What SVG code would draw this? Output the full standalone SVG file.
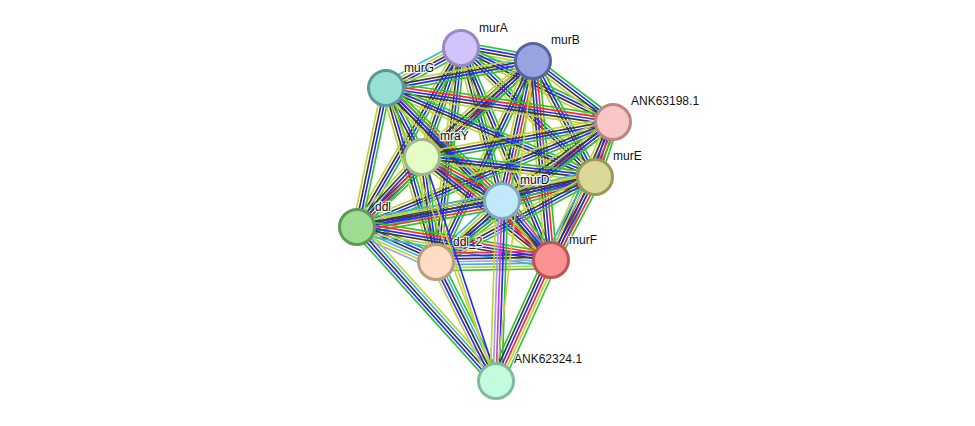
<svg xmlns="http://www.w3.org/2000/svg" xmlns:xlink="http://www.w3.org/1999/xlink" width="975" height="426" viewBox="0 0 975 426">
<style>
line{stroke-width:1.5;fill:none}
.g{stroke:#2fc42f}.r{stroke:#ff2a2a}.b{stroke:#2a2aff}.k{stroke:#3a3a3a}
.m{stroke:#d23cd2}.c{stroke:#3cb4d8}.y{stroke:#c2d23c}.h{stroke:#a0a0f0}
circle{stroke-width:3}
text{font-family:"Liberation Sans",Arial,sans-serif;font-size:12px;fill:#111;stroke:#fff;stroke-width:2.5;stroke-opacity:0.85;paint-order:stroke;stroke-linejoin:round}
</style>
<defs>
<g id="b4" transform="scale(1,1.12)"><line x1="0" x2="1" y1="-3.9" y2="-3.9" class="g"/><line x1="0" x2="1" y1="-1.3" y2="-1.3" class="b"/><line x1="0" x2="1" y1="1.3" y2="1.3" class="k"/><line x1="0" x2="1" y1="3.9" y2="3.9" class="y"/></g>
<g id="b5r" transform="scale(1,1.12)"><line x1="0" x2="1" y1="-5.2" y2="-5.2" class="g"/><line x1="0" x2="1" y1="-2.6" y2="-2.6" class="r"/><line x1="0" x2="1" y1="0" y2="0" class="b"/><line x1="0" x2="1" y1="2.6" y2="2.6" class="k"/><line x1="0" x2="1" y1="5.2" y2="5.2" class="y"/></g>
<g id="b5c" transform="scale(1,1.12)"><line x1="0" x2="1" y1="-5.2" y2="-5.2" class="g"/><line x1="0" x2="1" y1="-2.6" y2="-2.6" class="b"/><line x1="0" x2="1" y1="0" y2="0" class="k"/><line x1="0" x2="1" y1="2.6" y2="2.6" class="y"/><line x1="0" x2="1" y1="5.2" y2="5.2" class="c"/></g>
<g id="bEF" transform="scale(1,1.12)"><line x1="0" x2="1" y1="-6.5" y2="-6.5" class="g"/><line x1="0" x2="1" y1="-3.9" y2="-3.9" class="r"/><line x1="0" x2="1" y1="-1.3" y2="-1.3" class="b"/><line x1="0" x2="1" y1="1.3" y2="1.3" class="k"/><line x1="0" x2="1" y1="3.9" y2="3.9" class="y"/><line x1="0" x2="1" y1="6.5" y2="6.5" class="c"/></g>
<g id="bKF" transform="scale(1,1.12)"><line x1="0" x2="1" y1="-6.5" y2="-6.5" class="g"/><line x1="0" x2="1" y1="-3.9" y2="-3.9" class="y"/><line x1="0" x2="1" y1="-1.3" y2="-1.3" class="r"/><line x1="0" x2="1" y1="1.3" y2="1.3" class="b"/><line x1="0" x2="1" y1="3.9" y2="3.9" class="k"/><line x1="0" x2="1" y1="6.5" y2="6.5" class="g"/></g>
<g id="bDF" transform="scale(1,1.12)"><line x1="0" x2="1" y1="-6.5" y2="-6.5" class="g"/><line x1="0" x2="1" y1="-3.9" y2="-3.9" class="m"/><line x1="0" x2="1" y1="-1.3" y2="-1.3" class="b"/><line x1="0" x2="1" y1="1.3" y2="1.3" class="k"/><line x1="0" x2="1" y1="3.9" y2="3.9" class="y"/><line x1="0" x2="1" y1="6.5" y2="6.5" class="r"/></g>
<g id="bLT" transform="scale(1,1.12)"><line x1="0" x2="1" y1="-6.5" y2="-6.5" class="g"/><line x1="0" x2="1" y1="-3.9" y2="-3.9" class="b"/><line x1="0" x2="1" y1="-1.3" y2="-1.3" class="k"/><line x1="0" x2="1" y1="1.3" y2="1.3" class="c"/><line x1="0" x2="1" y1="3.9" y2="3.9" class="y"/><line x1="0" x2="1" y1="6.5" y2="6.5" class="h"/></g>
<g id="bTF" transform="scale(1,1.12)"><line x1="0" x2="1" y1="-7.8" y2="-7.8" class="r"/><line x1="0" x2="1" y1="-5.2" y2="-5.2" class="b"/><line x1="0" x2="1" y1="-2.6" y2="-2.6" class="k"/><line x1="0" x2="1" y1="0" y2="0" class="h"/><line x1="0" x2="1" y1="2.6" y2="2.6" class="c"/><line x1="0" x2="1" y1="5.2" y2="5.2" class="y"/><line x1="0" x2="1" y1="7.8" y2="7.8" class="g"/></g>
<g id="bDK" transform="scale(1,1.12)"><line x1="0" x2="1" y1="-5.2" y2="-5.2" class="g"/><line x1="0" x2="1" y1="-2.6" y2="-2.6" class="b"/><line x1="0" x2="1" y1="0" y2="0" class="m"/><line x1="0" x2="1" y1="2.6" y2="2.6" class="h"/><line x1="0" x2="1" y1="5.2" y2="5.2" class="y"/></g>
<g id="bLK" transform="scale(1,1.12)"><line x1="0" x2="1" y1="-5.2" y2="-5.2" class="y"/><line x1="0" x2="1" y1="-2.6" y2="-2.6" class="c"/><line x1="0" x2="1" y1="0" y2="0" class="k"/><line x1="0" x2="1" y1="2.6" y2="2.6" class="b"/><line x1="0" x2="1" y1="5.2" y2="5.2" class="g"/></g>
<g id="bTK" transform="scale(1,1.12)"><line x1="0" x2="1" y1="-5.2" y2="-5.2" class="g"/><line x1="0" x2="1" y1="-2.6" y2="-2.6" class="c"/><line x1="0" x2="1" y1="0" y2="0" class="k"/><line x1="0" x2="1" y1="2.6" y2="2.6" class="b"/><line x1="0" x2="1" y1="5.2" y2="5.2" class="y"/></g>
<g id="bYK" transform="scale(1,1.12)"><line x1="0" x2="1" y1="-1.3" y2="-1.3" class="b"/><line x1="0" x2="1" y1="1.3" y2="1.3" class="y"/></g>
<g id="b1y"><line x1="0" x2="1" y1="0" y2="0" class="y"/></g>
</defs>
<rect width="975" height="426" fill="#fff"/>
<g id="connectors">
<use href="#b5c" transform="matrix(72 13 -0.178 0.984 461 48)"/>
<use href="#b5c" transform="matrix(-75 40 -0.471 -0.882 461 48)"/>
<use href="#b4" transform="matrix(152 74 -0.438 0.899 461 48)"/>
<use href="#b4" transform="matrix(-39 109 -0.942 -0.337 461 48)"/>
<use href="#b4" transform="matrix(134 129 -0.694 0.720 461 48)"/>
<use href="#b4" transform="matrix(41 153 -0.966 0.259 461 48)"/>
<use href="#b4" transform="matrix(-104 179 -0.865 -0.502 461 48)"/>
<use href="#b4" transform="matrix(-25 214 -0.993 -0.116 461 48)"/>
<use href="#b4" transform="matrix(90 212 -0.921 0.391 461 48)"/>
<use href="#b4" transform="matrix(-147 27 -0.181 -0.983 533 61)"/>
<use href="#b4" transform="matrix(80 61 -0.606 0.795 533 61)"/>
<use href="#b5r" transform="matrix(-111 96 -0.654 -0.756 533 61)"/>
<use href="#b4" transform="matrix(62 116 -0.882 0.471 533 61)"/>
<use href="#b5r" transform="matrix(-31 140 -0.976 -0.216 533 61)"/>
<use href="#b4" transform="matrix(-176 166 -0.686 -0.728 533 61)"/>
<use href="#b4" transform="matrix(-97 201 -0.901 -0.435 533 61)"/>
<use href="#b5r" transform="matrix(18 199 -0.996 0.090 533 61)"/>
<use href="#b5r" transform="matrix(227 34 -0.148 0.989 386 88)"/>
<use href="#b4" transform="matrix(36 69 -0.887 0.463 386 88)"/>
<use href="#b4" transform="matrix(209 89 -0.392 0.920 386 88)"/>
<use href="#b5r" transform="matrix(116 113 -0.698 0.716 386 88)"/>
<use href="#b4" transform="matrix(-29 139 -0.979 -0.204 386 88)"/>
<use href="#b4" transform="matrix(50 174 -0.961 0.276 386 88)"/>
<use href="#b4" transform="matrix(165 172 -0.722 0.692 386 88)"/>
<use href="#b4" transform="matrix(-191 35 -0.180 -0.984 613 122)"/>
<use href="#b5r" transform="matrix(-18 55 -0.950 -0.311 613 122)"/>
<use href="#b5r" transform="matrix(-111 79 -0.580 -0.815 613 122)"/>
<use href="#b4" transform="matrix(-256 105 -0.379 -0.925 613 122)"/>
<use href="#b4" transform="matrix(-177 140 -0.620 -0.784 613 122)"/>
<use href="#b5r" transform="matrix(-62 138 -0.912 -0.410 613 122)"/>
<use href="#b4" transform="matrix(173 20 -0.115 0.993 422 157)"/>
<use href="#b5r" transform="matrix(80 44 -0.482 0.876 422 157)"/>
<use href="#b5r" transform="matrix(-65 70 -0.733 -0.681 422 157)"/>
<use href="#b4" transform="matrix(14 105 -0.991 0.132 422 157)"/>
<use href="#b5r" transform="matrix(129 103 -0.624 0.781 422 157)"/>
<use href="#bEF" transform="matrix(-93 24 -0.250 -0.969 595 177)"/>
<use href="#b4" transform="matrix(-238 50 -0.206 -0.979 595 177)"/>
<use href="#b4" transform="matrix(-159 85 -0.471 -0.882 595 177)"/>
<use href="#bEF" transform="matrix(-44 83 -0.884 -0.469 595 177)"/>
<use href="#bEF" transform="matrix(-145 26 -0.177 -0.984 502 201)"/>
<use href="#b5c" transform="matrix(-66 61 -0.679 -0.734 502 201)"/>
<use href="#bDF" transform="matrix(49 59 -0.769 0.639 502 201)"/>
<use href="#bLT" transform="matrix(79 35 -0.405 0.914 357 227)"/>
<use href="#bEF" transform="matrix(194 33 -0.168 0.986 357 227)"/>
<use href="#bTF" transform="matrix(115 -2 0.017 1.0 436 262)"/>
<use href="#bLK" transform="matrix(139 154 -0.742 0.670 357 227)"/>
<use href="#bTK" transform="matrix(60 119 -0.893 0.450 436 262)"/>
<use href="#bYK" transform="matrix(74 224 -0.950 0.314 422 157)"/>
<use href="#b1y" transform="matrix(110 293 -0.936 0.351 386 88)"/>
<use href="#bDK" transform="matrix(-6 180 -0.999 -0.033 502 201)"/>
<use href="#bKF" transform="matrix(-55 121 -0.910 -0.414 551 260)"/>
<use href="#b1y" transform="matrix(-37 320 -0.993 -0.115 533 61)"/>
</g>
<g id="murA"><circle cx="461" cy="48" r="17.5" fill="#d2c4fa" stroke="#9a88c6"/><text x="479" y="32">murA</text></g>
<g id="murB"><circle cx="533" cy="61" r="17.5" fill="#98a4e0" stroke="#5864a0"/><text x="551" y="44">murB</text></g>
<g id="murG"><circle cx="386" cy="88" r="17.5" fill="#98e0d6" stroke="#5a9a94"/><text x="404" y="72">murG</text></g>
<g id="ANK63198.1"><circle cx="613" cy="122" r="17.5" fill="#f8c6c6" stroke="#b88888"/><text x="631" y="105">ANK63198.1</text></g>
<g id="mraY"><circle cx="422" cy="157" r="17.5" fill="#e4fcc6" stroke="#a0b888"/><text x="440" y="140">mraY</text></g>
<g id="murE"><circle cx="595" cy="177" r="17.5" fill="#dcd898" stroke="#9c9858"/><text x="613" y="160">murE</text></g>
<g id="murD"><circle cx="502" cy="201" r="17.5" fill="#c2e8fc" stroke="#80a8c0"/><text x="520" y="184">murD</text></g>
<g id="ddl"><circle cx="357" cy="227" r="17.5" fill="#9edc92" stroke="#5e9c56"/><text x="375" y="211">ddl</text></g>
<g id="ddl_2"><circle cx="436" cy="262" r="17.5" fill="#fcdcc2" stroke="#bc9c80"/><text x="453" y="246">ddl_2</text></g>
<g id="murF"><circle cx="551" cy="260" r="17.5" fill="#fc9292" stroke="#bc5656"/><text x="569" y="244">murF</text></g>
<g id="ANK62324.1"><circle cx="496" cy="381" r="17.5" fill="#c2fcdc" stroke="#80bc9c"/><text x="514" y="363">ANK62324.1</text></g>
</svg>
